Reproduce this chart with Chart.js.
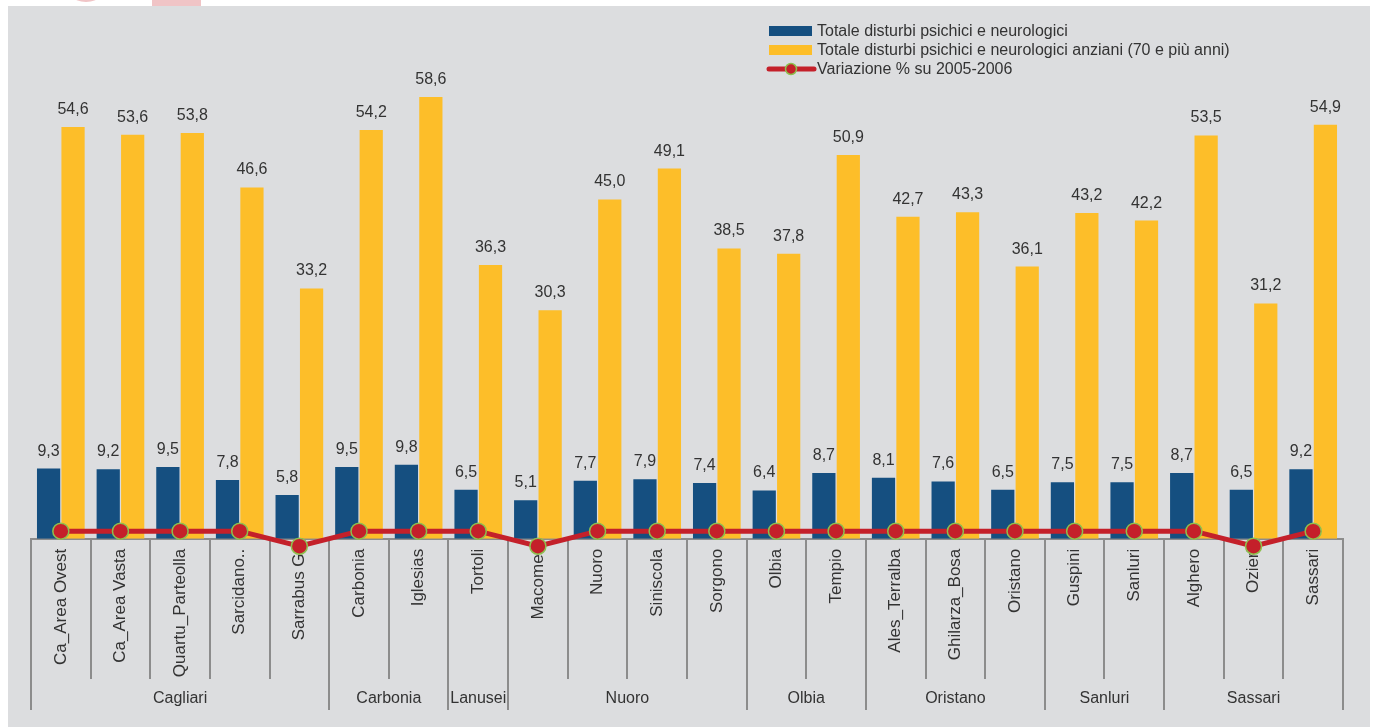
<!DOCTYPE html>
<html>
<head>
<meta charset="utf-8">
<script src="https://cdn.jsdelivr.net/npm/chart.js@4.4.0/dist/chart.umd.min.js"></script>
<style>
  body { margin: 0; background: #fff; }
  #wrap { width: 1375px; height: 727px; position: relative; }
</style>
</head>
<body>
<div id="wrap"><canvas id="diag"></canvas></div>
<script>
const labels = ['Ca_Area Ovest', 'Ca_Area Vasta', 'Quartu_Parteolla', 'Sarcidano..', 'Sarrabus G.',
  'Carbonia', 'Iglesias', 'Tortoli', 'Macomer', 'Nuoro', 'Siniscola', 'Sorgono', 'Olbia', 'Tempio',
  'Ales_Terralba', 'Ghilarza_Bosa', 'Oristano', 'Guspini', 'Sanluri', 'Alghero', 'Ozieri', 'Sassari'];
const groups = ['Cagliari', 'Carbonia', 'Lanusei', 'Nuoro', 'Olbia', 'Oristano', 'Sanluri', 'Sassari'];
const groupSizes = [5, 2, 1, 4, 2, 3, 2, 3];
const totale = [9.3, 9.2, 9.5, 7.8, 5.8, 9.5, 9.8, 6.5, 5.1, 7.7, 7.9, 7.4, 6.4, 8.7, 8.1, 7.6, 6.5, 7.5, 7.5, 8.7, 6.5, 9.2];
const anziani = [54.6, 53.6, 53.8, 46.6, 33.2, 54.2, 58.6, 36.3, 30.3, 45.0, 49.1, 38.5, 37.8, 50.9, 42.7, 43.3, 36.1, 43.2, 42.2, 53.5, 31.2, 54.9];
const variazione = [1, 1, 1, 1, -1, 1, 1, 1, -1, 1, 1, 1, 1, 1, 1, 1, 1, 1, 1, 1, -1, 1];

const BLUE = '#154f80';
const YELLOW = '#fdbe29';
const RED = '#c4202a';
const GREEN = '#8dc04f';
const GREY_LINE = '#8c8c8c';
const TXT = '#333333';
const FONT = '"Liberation Sans", Arial, sans-serif';

// white page, grey panel and the cut logo at the top
const background = {
  id: 'background',
  beforeDraw(chart) {
    const c = chart.ctx;
    c.save();
    c.fillStyle = '#ffffff';
    c.fillRect(0, 0, chart.width, chart.height);
    c.fillStyle = '#f0c4c6';
    c.beginPath();
    c.arc(86, -22, 24, 0, Math.PI * 2);
    c.fill();
    c.fillRect(152, 0, 49, 6);
    c.fillStyle = '#dcdddf';
    c.fillRect(8, 6, 1362, chart.height - 6);
    c.restore();
  }
};

// separators under the axis and the ASL group names
const groupAxis = {
  id: 'groupAxis',
  beforeDatasetsDraw(chart) {
    const c = chart.ctx;
    const x = chart.scales.x;
    const step = (x.right - x.left) / labels.length;
    const y0 = chart.chartArea.bottom;
    const bounds = [0];
    groupSizes.forEach(n => bounds.push(bounds[bounds.length - 1] + n));
    c.save();
    c.strokeStyle = GREY_LINE;
    c.lineWidth = 2;
    for (let i = 0; i <= labels.length; i++) {
      const px = Math.round(x.left + i * step);
      const end = bounds.includes(i) ? 710 : 679;
      c.beginPath();
      c.moveTo(px, y0);
      c.lineTo(px, end);
      c.stroke();
    }
    c.fillStyle = TXT;
    c.font = '16px ' + FONT;
    c.textAlign = 'center';
    c.textBaseline = 'middle';
    groups.forEach((g, k) => {
      const mid = x.left + (bounds[k] + bounds[k + 1]) / 2 * step;
      c.fillText(g, mid, 699);
    });
    c.restore();
  }
};

// values over the bars
const barValues = {
  id: 'barValues',
  afterDatasetsDraw(chart) {
    const c = chart.ctx;
    c.save();
    c.fillStyle = TXT;
    c.font = '16px ' + FONT;
    c.textAlign = 'center';
    c.textBaseline = 'alphabetic';
    [0, 1].forEach(d => {
      const meta = chart.getDatasetMeta(d);
      meta.data.forEach((bar, i) => {
        const v = chart.data.datasets[d].data[i];
        c.fillText(v.toFixed(1).replace('.', ','), bar.x, bar.y - 13);
      });
    });
    c.restore();
  }
};

const legendBox = {
  id: 'legendBox',
  afterDraw(chart) {
    const c = chart.ctx;
    const ds = chart.data.datasets;
    const rows = [31, 50, 69];
    c.save();
    c.font = '16px ' + FONT;
    c.textBaseline = 'middle';
    c.textAlign = 'left';
    c.fillStyle = ds[0].backgroundColor;
    c.fillRect(769, rows[0] - 5, 43, 10);
    c.fillStyle = ds[1].backgroundColor;
    c.fillRect(769, rows[1] - 5, 43, 10);
    c.strokeStyle = ds[2].borderColor;
    c.lineWidth = 5;
    c.lineCap = 'round';
    c.beginPath();
    c.moveTo(769, rows[2]);
    c.lineTo(814, rows[2]);
    c.stroke();
    c.beginPath();
    c.arc(791, rows[2], 5.5, 0, Math.PI * 2);
    c.fillStyle = ds[2].pointBackgroundColor;
    c.fill();
    c.lineWidth = 1.5;
    c.strokeStyle = ds[2].pointBorderColor;
    c.stroke();
    c.fillStyle = TXT;
    ds.forEach((d, i) => c.fillText(d.label, 817, rows[i] + 1));
    c.restore();
  }
};

const config = {
  type: 'bar',
  data: {
    labels: labels,
    datasets: [
      {
        label: 'Totale disturbi psichici e neurologici',
        data: totale,
        backgroundColor: BLUE,
        borderWidth: 0,
        categoryPercentage: 0.82,
        barPercentage: 0.95,
        order: 1
      },
      {
        label: 'Totale disturbi psichici e neurologici anziani (70 e più anni)',
        data: anziani,
        backgroundColor: YELLOW,
        borderWidth: 0,
        categoryPercentage: 0.82,
        barPercentage: 0.95,
        order: 1
      },
      {
        type: 'line',
        label: 'Variazione % su 2005-2006',
        data: variazione,
        borderColor: RED,
        borderWidth: 5,
        pointRadius: 8,
        pointBorderWidth: 1.5,
        pointBackgroundColor: RED,
        pointBorderColor: GREEN,
        tension: 0,
        clip: false,
        order: 0
      }
    ]
  },
  options: {
    responsive: true,
    maintainAspectRatio: false,
    animation: false,
    layout: { padding: { left: 31, right: 32, top: 11, bottom: 0 } },
    plugins: {
      legend: { display: false },
      tooltip: { enabled: false }
    },
    scales: {
      x: {
        grid: { display: false, drawTicks: false },
        border: { display: true, color: GREY_LINE, width: 2 },
        ticks: {
          autoSkip: false,
          minRotation: 90,
          maxRotation: 90,
          padding: 10,
          color: TXT,
          font: { family: FONT, size: 17 }
        },
        afterFit(scale) { scale.height = 188.3; }
      },
      y: {
        display: false,
        min: 0,
        max: 70
      }
    }
  },
  plugins: [background, groupAxis, barValues, legendBox]
};

const ctx = document.getElementById('diag').getContext('2d');
const diag = new Chart(ctx, config);
</script>
</body>
</html>
